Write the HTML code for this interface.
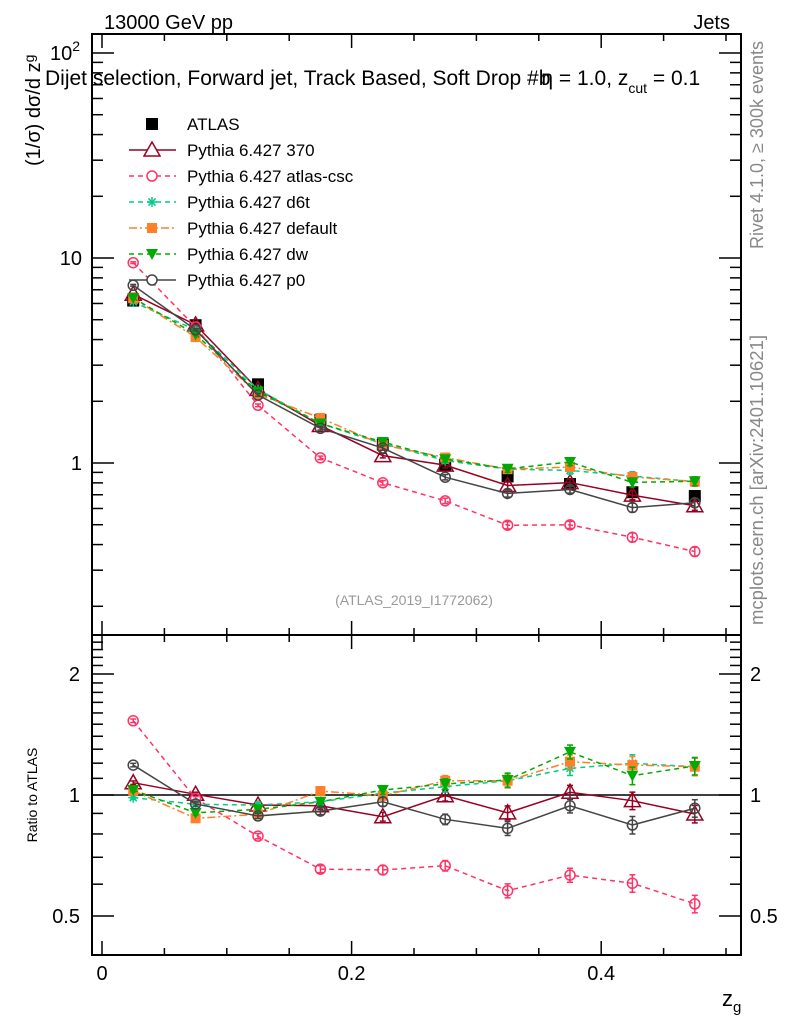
<!DOCTYPE html>
<html><head><meta charset="utf-8"><style>
html,body{margin:0;padding:0;background:#fff;}
svg{display:block;font-family:"Liberation Sans",sans-serif;}
</style></head><body>
<svg id="c" width="786" height="1024" xmlns="http://www.w3.org/2000/svg"></svg>
<script>
const xCenters=[0.025,0.075,0.125,0.175,0.225,0.275,0.325,0.375,0.425,0.475];
const atlasVals=[6.2,4.7,2.42,1.62,1.23,0.98,0.86,0.79,0.72,0.69];
const ratio370=[1.073,1.004,0.944,0.94,0.883,0.996,0.903,1.016,0.968,0.897];
const ratioCsc=[1.53,0.98,0.79,0.654,0.651,0.667,0.578,0.632,0.603,0.536];
const ratioD6t=[0.985,0.948,0.944,0.962,1.01,1.049,1.085,1.165,1.199,1.176];
const ratioDefault=[1.025,0.875,0.895,1.023,0.996,1.085,1.085,1.21,1.187,1.176];
const ratioDw=[1.029,0.903,0.921,0.962,1.029,1.065,1.09,1.28,1.117,1.181];
const ratioP0=[1.187,0.95,0.887,0.912,0.962,0.87,0.826,0.94,0.842,0.927];
const relErr=[0.01,0.012,0.015,0.02,0.025,0.03,0.04,0.04,0.05,0.05];
const xTickLabels=["0","0.2","0.4"];
const ratioTickLabels=["0.5","1","2"];

const NS="http://www.w3.org/2000/svg";
const svg=document.getElementById('c');
function el(t,a,p){const e=document.createElementNS(NS,t);for(const k in a)e.setAttribute(k,a[k]);(p||svg).appendChild(e);return e;}
const L=92,R=741,T=34,MB=635,B=955;
const X=v=>102+v*1248;
const Ym=v=>463-Math.log10(v)*205;
const Yr=v=>795-Math.log10(v)*402;

const f1=el('rect',{x:L,y:T,width:R-L,height:MB-T,fill:'none',stroke:'#000','stroke-width':2});

const f2=el('rect',{x:L,y:MB,width:R-L,height:B-MB,fill:'none',stroke:'#000','stroke-width':2});


for(let i=0;i<=10;i++){const v=i*0.05,x=X(v);if(x>R)break;const big=(i%4===0);const len=big?14:7;
 [[T,T+len],[MB,MB-len],[MB,MB+len],[B,B-len]].forEach(p=>el('line',{x1:x,x2:x,y1:p[0],y2:p[1],stroke:'#000','stroke-width':1.5}));}
xTickLabels.forEach((s,i)=>{const t=el('text',{x:X(i*0.2),y:980,'font-size':20,'text-anchor':'middle'});t.textContent=s;
 });
const zl=el('text',{x:722,y:1006,'font-size':22});zl.innerHTML='z<tspan font-size="15" dy="6">g</tspan>';


for(let d=-1;d<=2;d++){for(let m=1;m<=9;m++){const v=m*Math.pow(10,d);const y=Ym(v);if(y<T||y>MB)continue;const len=m===1?22:11;
 el('line',{x1:L,x2:L+len,y1:y,y2:y,stroke:'#000','stroke-width':1.5});el('line',{x1:R,x2:R-len,y1:y,y2:y,stroke:'#000','stroke-width':1.5});}}
[[10,'10'],[1,'1']].forEach(p=>{const t=el('text',{x:82,y:Ym(p[0])+7,'font-size':20,'text-anchor':'end'});t.textContent=p[1];
 });
const t100=el('text',{x:50,y:Ym(100)+7,'font-size':20});t100.innerHTML='10<tspan font-size="14" dy="-9">2</tspan>';


for(let i=4;i<=25;i++){const v=i/10;const y=Yr(v);if(y<MB||y>B)continue;const big=(i===5||i===10||i===20);const len=big?22:11;
 el('line',{x1:L,x2:L+len,y1:y,y2:y,stroke:'#000','stroke-width':1.5});el('line',{x1:R,x2:R-len,y1:y,y2:y,stroke:'#000','stroke-width':1.5});}
[0.5,1,2].forEach((v,i)=>{const t=el('text',{x:80,y:Yr(v)+7,'font-size':20,'text-anchor':'end'});t.textContent=ratioTickLabels[i];
 
 const t2=el('text',{x:750,y:Yr(v)+7,'font-size':20});t2.textContent=ratioTickLabels[i];
 });
el('line',{x1:L,x2:R,y1:Yr(1),y2:Yr(1),stroke:'#000','stroke-width':1.5});

function txt(s,a,name){const t=el('text',a);t.innerHTML=s;return t;}
txt('13000 GeV pp',{x:104,y:29,'font-size':20},'energy-label');
txt('Jets',{x:730,y:29,'font-size':20,'text-anchor':'end'},'process-label');
txt('Dijet selection, Forward jet, Track Based, Soft Drop #b<tspan dx="-9">η = 1.0, z</tspan><tspan font-size="14" dy="8">cut</tspan><tspan dy="-8"> = 0.1</tspan>',{x:45,y:85,'font-size':21},'plot-title');
txt('(1/σ) dσ/d z<tspan font-size="14" dy="-6">g</tspan>',{x:0,y:0,'font-size':20,transform:'translate(40,166) rotate(-90)'},'y-axis-title');
txt('Ratio to ATLAS',{x:0,y:0,'font-size':14,'text-anchor':'middle',transform:'translate(37,795) rotate(-90)'},'ratio-axis-title');
txt('Rivet 4.1.0, ≥ 300k events',{x:0,y:0,'font-size':18,fill:'#888','text-anchor':'middle',transform:'translate(763,145) rotate(-90)'},'rivet-label');
txt('mcplots.cern.ch [arXiv:2401.10621]',{x:0,y:0,'font-size':18.5,fill:'#888','text-anchor':'middle',transform:'translate(763,480) rotate(-90)'},'mcplots-label');
txt('(ATLAS_2019_I1772062)',{x:414,y:605,'font-size':14,fill:'#999','text-anchor':'middle'},'analysis-id');

function marker(type,x,y,col,g){
 if(type==='sq')return el('rect',{x:x-6,y:y-6,width:12,height:12,fill:col},g);
 if(type==='fsq')return el('rect',{x:x-5,y:y-5,width:10,height:10,fill:col},g);
 if(type==='tri')return el('polygon',{points:`${x},${y-8} ${x-8},${y+6} ${x+8},${y+6}`,fill:'none',stroke:col,'stroke-width':1.5},g);
 if(type==='circ')return el('circle',{cx:x,cy:y,r:5,fill:'none',stroke:col,'stroke-width':1.5},g);
 if(type==='dtri')return el('polygon',{points:`${x-6},${y-5} ${x+6},${y-5} ${x},${y+6}`,fill:col},g);
 if(type==='star'){const gg=el('g',{stroke:col,'stroke-width':1.5},g);
  for(let a=0;a<4;a++){const an=a*Math.PI/4;el('line',{x1:x-5*Math.cos(an),y1:y-5*Math.sin(an),x2:x+5*Math.cos(an),y2:y+5*Math.sin(an)},gg);}return gg;}
}
const series=[
 {name:'370',r:ratio370,col:'#990022',dash:'',m:'tri'},
 {name:'atlas-csc',r:ratioCsc,col:'#ff3366',dash:'5,4',m:'circ'},
 {name:'d6t',r:ratioD6t,col:'#00cc88',dash:'5,4',m:'star'},
 {name:'default',r:ratioDefault,col:'#ff7f2a',dash:'8,3,2,3',m:'fsq'},
 {name:'dw',r:ratioDw,col:'#00aa00',dash:'5,4',m:'dtri'},
 {name:'p0',r:ratioP0,col:'#444444',dash:'',m:'circ'}
];
const ga=el('g',{});
xCenters.forEach((xv,i)=>{const m=marker('sq',X(xv),Ym(atlasVals[i]),'#000',ga);
 });
series.forEach(s=>{
 [[Ym,i=>atlasVals[i]*s.r[i]],[Yr,i=>s.r[i]]].forEach((pp,pi)=>{
  const Y=pp[0],val=pp[1];
  const g=el('g',{});
  const pts=xCenters.map((xv,i)=>X(xv)+','+Y(val(i))).join(' ');
  const pl=el('polyline',{points:pts,fill:'none',stroke:s.col,'stroke-width':1.5,'stroke-dasharray':s.dash},g);
  
  xCenters.forEach((xv,i)=>{const x=X(xv),v=val(i),e=relErr[i];
   const y1=Y(v*(1+e)),y2=Y(v*(1-e));
   el('line',{x1:x,x2:x,y1:y1,y2:y2,stroke:s.col,'stroke-width':1.5},g);
   el('line',{x1:x-3,x2:x+3,y1:y1,y2:y1,stroke:s.col,'stroke-width':1.5},g);
   el('line',{x1:x-3,x2:x+3,y1:y2,y2:y2,stroke:s.col,'stroke-width':1.5},g);
   const m=marker(s.m,x,Y(v),s.col,g);
   });
 });
});
const leg=el('g',{});
const le0=el('g',{},leg);
marker('sq',152,124,'#000',le0);
const lt0=el('text',{x:187,y:130,'font-size':17},le0);lt0.textContent='ATLAS';
series.forEach((s,k)=>{const y=150+k*26;
 const g=el('g',{},leg);
 el('line',{x1:129,x2:176,y1:y,y2:y,stroke:s.col,'stroke-width':1.5,'stroke-dasharray':s.dash},g);
 const m=marker(s.m,152,y,s.col,g);if(s.m==='circ'||s.m==='tri')m.setAttribute('fill','#fff');
 const t=el('text',{x:187,y:y+6,'font-size':17},g);t.textContent='Pythia 6.427 '+s.name;});
</script>
</body></html>
